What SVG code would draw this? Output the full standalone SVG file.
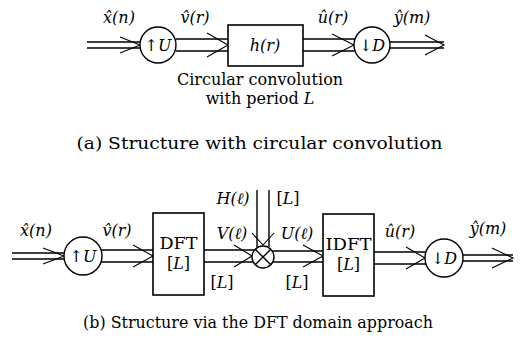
<svg xmlns="http://www.w3.org/2000/svg" width="524" height="347" viewBox="0 0 524 347" font-family="'DejaVu Serif', serif">
<style>
.ln{stroke:#000;stroke-width:1.4;fill:none}
.ch{stroke:#000;stroke-width:1.1;fill:none;stroke-linejoin:miter}
.bx{stroke:#000;stroke-width:1.6;fill:#fff}
.ci{stroke:#000;stroke-width:1.4;fill:#fff}
.m{font-family:'DejaVu Serif',serif;font-style:italic;font-size:16px}
.r{font-family:'DejaVu Serif',serif;font-size:16px}
.t{font-family:'DejaVu Serif',serif;font-size:16px}
.b{font-family:'DejaVu Serif',serif;font-size:16px}
.cap{font-family:'DejaVu Serif',serif;font-size:16.5px}
</style>
<g id="connectors">
<path class="ln" d="M87 42H140M87 48H140"/><path class="ch" d="M120 37L140 45L120 53"/>
<path class="ln" d="M176 39H228M176 51H228"/><path class="ch" d="M207 33L228 45L207 57"/>
<path class="ln" d="M303 39H355M303 51H355"/><path class="ch" d="M332 34L354 45L332 56"/>
<path class="ln" d="M390 42H444M390 48H444"/><path class="ch" d="M425 35L444 45L425 55"/>
<path class="ln" d="M12 253H65M12 259H65"/><path class="ch" d="M43 248L64 256L43 264"/>
<path class="ln" d="M101 250H153M101 262H153"/><path class="ch" d="M133 245L153 256L133 267"/>
<path class="ln" d="M204 250H254M204 262H254"/><path class="ch" d="M234 245L252 256L234 267"/>
<path class="ln" d="M257 190V247M269 190V247"/><path class="ch" d="M252 233L263 245L274 233"/>
<path class="ln" d="M272 251H323M272 262H323"/><path class="ch" d="M303 245L323 256L303 267"/>
<path class="ln" d="M374 252H426M374 264H426"/><path class="ch" d="M406 247L425 258L406 269"/>
<path class="ln" d="M463 255H513M463 261H513"/><path class="ch" d="M492 248L513 258L492 268"/>
</g>
<g id="upU_a"><circle class="ci" cx="158" cy="45" r="18"/><text x="158" y="51" text-anchor="middle" class="r">↑<tspan class="m">U</tspan></text></g>
<g id="h_a"><rect class="bx" x="228" y="25" width="75" height="41"/><text x="265" y="51" text-anchor="middle" class="m">h(r)</text></g>
<g id="downD_a"><circle class="ci" cx="372" cy="45" r="18"/><text x="372" y="51" text-anchor="middle" class="r">↓<tspan class="m">D</tspan></text></g>
<g id="labels_a">
<text x="119" y="23" text-anchor="middle" class="m">x̂(n)</text>
<text x="195" y="23" text-anchor="middle" class="m">v̂(r)</text>
<text x="333" y="23" text-anchor="middle" class="m">û(r)</text>
<text x="412" y="23" text-anchor="middle" class="m">ŷ(m)</text>
<text x="260" y="85" text-anchor="middle" class="t">Circular convolution</text>
<text x="260" y="104" text-anchor="middle" class="t">with period <tspan font-style="italic">L</tspan></text>
<text x="259.5" y="149" text-anchor="middle" class="cap" textLength="366" lengthAdjust="spacingAndGlyphs">(a) Structure with circular convolution</text>
</g>
<g id="upU_b"><circle class="ci" cx="83" cy="256" r="19"/><text x="83" y="262" text-anchor="middle" class="r">↑<tspan class="m">U</tspan></text></g>
<g id="DFT"><rect class="bx" x="153" y="213" width="51" height="82"/><text x="178.5" y="249" text-anchor="middle" class="b" textLength="38" lengthAdjust="spacingAndGlyphs">DFT</text><text x="178.5" y="269" text-anchor="middle" class="b">[<tspan class="m">L</tspan>]</text></g>
<g id="mult"><circle class="ci" cx="263" cy="257" r="11"/><path class="ln" d="M255.2 249.2L270.8 264.8M270.8 249.2L255.2 264.8"/></g>
<g id="IDFT"><rect class="bx" x="323" y="214" width="51" height="82"/><text x="348.5" y="250" text-anchor="middle" class="b" textLength="46" lengthAdjust="spacingAndGlyphs">IDFT</text><text x="348.5" y="270" text-anchor="middle" class="b">[<tspan class="m">L</tspan>]</text></g>
<g id="downD_b"><circle class="ci" cx="444" cy="258" r="19"/><text x="444" y="264" text-anchor="middle" class="r">↓<tspan class="m">D</tspan></text></g>
<g id="labels_b">
<text x="36" y="236" text-anchor="middle" class="m">x̂(n)</text>
<text x="117" y="236" text-anchor="middle" class="m">v̂(r)</text>
<text x="233" y="204" text-anchor="middle" class="m">H(ℓ)</text>
<text x="288" y="204" text-anchor="middle" class="r">[<tspan class="m">L</tspan>]</text>
<text x="232" y="239" text-anchor="middle" class="m">V(ℓ)</text>
<text x="222" y="288" text-anchor="middle" class="r">[<tspan class="m">L</tspan>]</text>
<text x="297" y="239" text-anchor="middle" class="m">U(ℓ)</text>
<text x="297" y="288" text-anchor="middle" class="r">[<tspan class="m">L</tspan>]</text>
<text x="400" y="237" text-anchor="middle" class="m">û(r)</text>
<text x="488" y="234" text-anchor="middle" class="m">ŷ(m)</text>
<text x="258" y="328" text-anchor="middle" class="cap" textLength="350" lengthAdjust="spacingAndGlyphs">(b) Structure via the DFT domain approach</text>
</g>
</svg>
